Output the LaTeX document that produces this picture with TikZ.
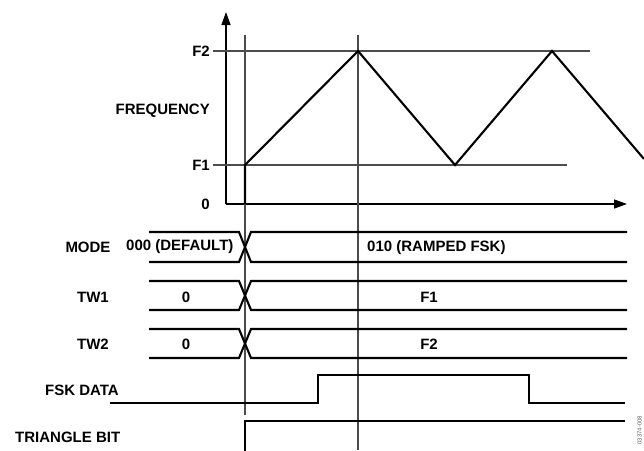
\documentclass[tikz,border=0pt]{standalone}
\usepackage{fontspec}
\setmainfont{Liberation Sans}
\usetikzlibrary{arrows.meta}
\begin{document}
\begin{tikzpicture}[x=1pt,y=-1pt,
  lbl/.style={font=\fontsize{15}{17}\selectfont\bfseries, inner sep=0pt},
  sig/.style={line width=2.1pt, line join=miter},
  refl/.style={line width=1.1pt, draw=black!70},
  axis/.style={line width=1.4pt, -{Triangle[length=13pt,width=9pt]}}]
\useasboundingbox (0,0) rectangle (644,450);
% axes
\coordinate (O) at (226,204);
\coordinate (ytop) at (226,12);
\coordinate (xend) at (627,204);
\draw[axis] (O) -- (ytop);
\draw[axis] (O) -- (xend);
% reference lines
\coordinate (f2a) at (213,51);
\coordinate (f2b) at (590,51);
\coordinate (f1a) at (213,165);
\coordinate (f1b) at (567,165);
\draw[refl] (f2a) -- (f2b);
\draw[refl] (f1a) -- (f1b);
\coordinate (v1t) at (245,35);
\coordinate (v1b) at (245,415);
\coordinate (v2t) at (358,35);
\coordinate (v2b) at (358,450);
\draw[refl] (v1t) -- (v1b);
\draw[refl] (v2t) -- (v2b);
% frequency labels
\node[lbl, anchor=east] (lf2) at (210,51) {F2};
\node[lbl, anchor=east] (lf1) at (210,165) {F1};
\node[lbl, anchor=east] (l0) at (210,204) {0};
\node[lbl, anchor=east] (lfreq) at (210,111) {FREQUENCY};
% triangle waveform
\coordinate (t0) at (245,204);
\coordinate (t1) at (245,165);
\coordinate (t2) at (358,51);
\coordinate (t3) at (455,165);
\coordinate (t4) at (552,51);
\coordinate (t5) at (644,159);
\draw[sig] (t0) -- (t1) -- (t2) -- (t3) -- (t4) -- (t5);
% buses
\foreach \yt/\yb in {232/262, 281/310, 329/358}{
  \draw[sig] (149,\yt) -- (239,\yt) -- (251,\yb) -- (627,\yb);
  \draw[sig] (149,\yb) -- (239,\yb) -- (251,\yt) -- (627,\yt);
}
\node[lbl] (lmode) at (88,247) {MODE};
\node[lbl, anchor=west] (lmodeA) at (126,247) {000 (DEFAULT)};
\node[lbl, anchor=west] (lmodeB) at (367,248) {010 (RAMPED FSK)};
\node[lbl] (ltw1) at (93,297) {TW1};
\node[lbl] (ltw1a) at (186,297) {0};
\node[lbl] (ltw1b) at (429,297) {F1};
\node[lbl] (ltw2) at (93,344) {TW2};
\node[lbl] (ltw2a) at (186,344) {0};
\node[lbl] (ltw2b) at (429,344) {F2};
% FSK data
\node[lbl, anchor=west] (lfsk) at (45,390) {FSK DATA};
\coordinate (d0) at (110,403);
\coordinate (d1) at (318,403);
\coordinate (d2) at (318,375);
\coordinate (d3) at (529,375);
\coordinate (d4) at (529,403);
\coordinate (d5) at (625,403);
\draw[sig] (d0) -- (d1) -- (d2) -- (d3) -- (d4) -- (d5);
% triangle bit
\node[lbl, anchor=west] (ltri) at (15,437) {TRIANGLE BIT};
\coordinate (b0) at (245,451);
\coordinate (b1) at (245,421);
\coordinate (b2) at (625,421);
\draw[sig] (b0) -- (b1) -- (b2);
% figure code
\node[font=\fontsize{6}{7}\selectfont, text=black!60, rotate=90, anchor=north] (code) at (634,430) {03374-008};
\end{tikzpicture}
\end{document}
